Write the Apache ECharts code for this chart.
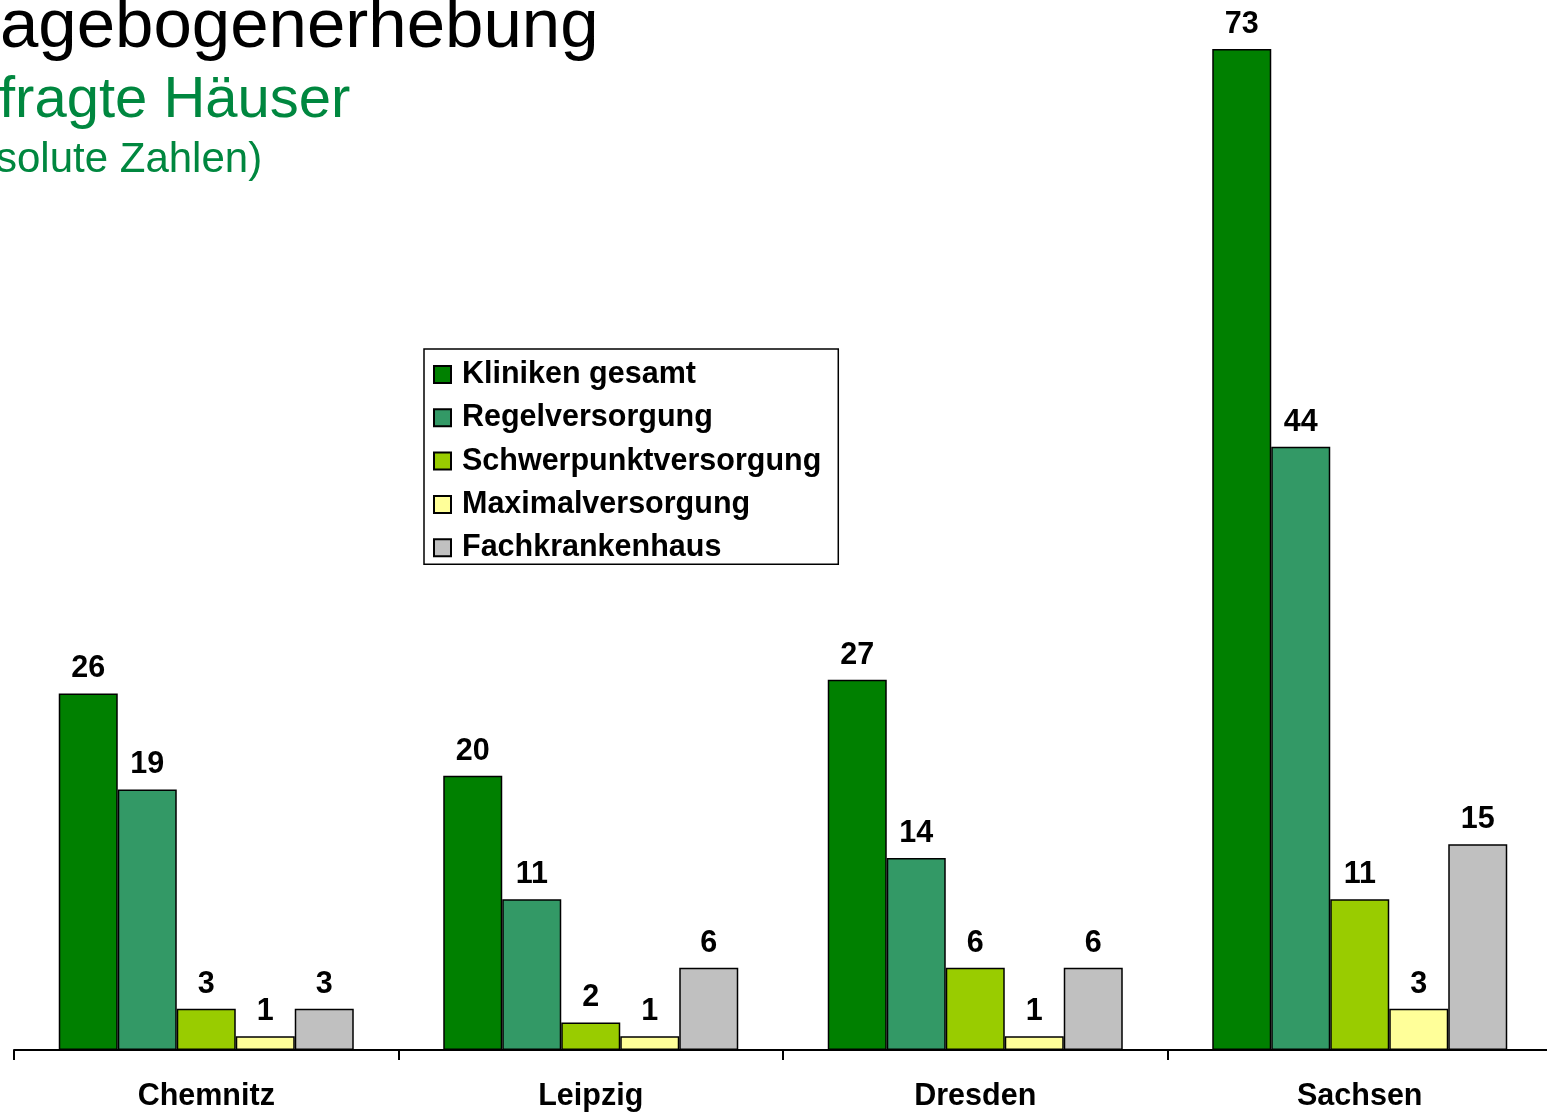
<!DOCTYPE html>
<html>
<head>
<meta charset="utf-8">
<script src="https://cdn.jsdelivr.net/npm/echarts@6/dist/echarts.min.js"></script>
<style>
  html, body { margin: 0; padding: 0; background: #fff; }
  #chart { width: 1547px; height: 1112px; }
</style>
</head>
<body>
<div id="chart"></div>
<script>
// Regions and the number of surveyed hospitals per care level
const regions = ['Chemnitz', 'Leipzig', 'Dresden', 'Sachsen'];
const seriesNames = ['Kliniken gesamt', 'Regelversorgung', 'Schwerpunktversorgung', 'Maximalversorgung', 'Fachkrankenhaus'];
const klinikenGesamt = [26, 20, 27, 73];
const regelversorgung = [19, 11, 14, 44];
const schwerpunktversorgung = [3, 2, 6, 11];
const maximalversorgung = [1, 1, 1, 3];
const fachkrankenhaus = [3, 6, 6, 15];
const headingLines = ['agebogenerhebung', 'fragte Häuser', 'solute Zahlen)'];

const seriesValues = [klinikenGesamt, regelversorgung, schwerpunktversorgung, maximalversorgung, fachkrankenhaus];
const seriesColors = ['#008000', '#339966', '#99CC00', '#FFFF99', '#C0C0C0'];
const FONT = '"Liberation Sans", Arial, sans-serif';

const chart = echarts.init(document.getElementById('chart'), null, { renderer: 'canvas' });

chart.setOption({
  backgroundColor: '#ffffff',
  animation: false,
  textStyle: { fontFamily: FONT },
  graphic: [
    { type: 'text', left: 0, top: -7, style: { text: headingLines[0], font: '69px ' + FONT, fill: '#000000' } },
    { type: 'text', left: -1, top: 72, style: { text: headingLines[1], font: '58px ' + FONT, fill: '#00873F' } },
    { type: 'text', left: -4, top: 139, style: { text: headingLines[2], font: '42px ' + FONT, fill: '#00873F' } }
  ],
  legend: {
    orient: 'vertical',
    left: 424,
    top: 349,
    padding: [10, 17, 1, 9],
    itemGap: 12.3,
    itemWidth: 17,
    itemHeight: 17,
    icon: 'rect',
    borderColor: '#000',
    borderWidth: 1.5,
    backgroundColor: '#fff',
    data: seriesNames,
    textStyle: { fontFamily: FONT, fontSize: 30.5, fontWeight: 'bold', color: '#000', lineHeight: 30, padding: [0, 0, 0, 6] }
  },
  grid: { left: 14, top: 49, bottom: 62, width: 1538, outerBoundsMode: 'none', containLabel: false },
  xAxis: {
    type: 'category',
    data: regions,
    axisLine: { show: true, lineStyle: { color: '#000', width: 2 } },
    axisTick: { show: true, alignWithLabel: false, length: 10, lineStyle: { color: '#000', width: 2 } },
    axisLabel: { margin: 31, fontFamily: FONT, fontSize: 30.5, fontWeight: 'bold', color: '#000' }
  },
  yAxis: {
    type: 'value',
    min: 0,
    max: 73,
    show: false,
    splitLine: { show: false }
  },
  series: seriesNames.map((name, i) => ({
    name: name,
    type: 'bar',
    data: seriesValues[i],
    barWidth: 59,
    barGap: '0%',
    itemStyle: { color: seriesColors[i], borderColor: '#000', borderWidth: 1.5 },
    label: {
      show: true,
      position: 'top',
      distance: 9,
      fontFamily: FONT,
      fontSize: 30.5,
      fontWeight: 'bold',
      color: '#000'
    }
  }))
});
</script>
</body>
</html>
